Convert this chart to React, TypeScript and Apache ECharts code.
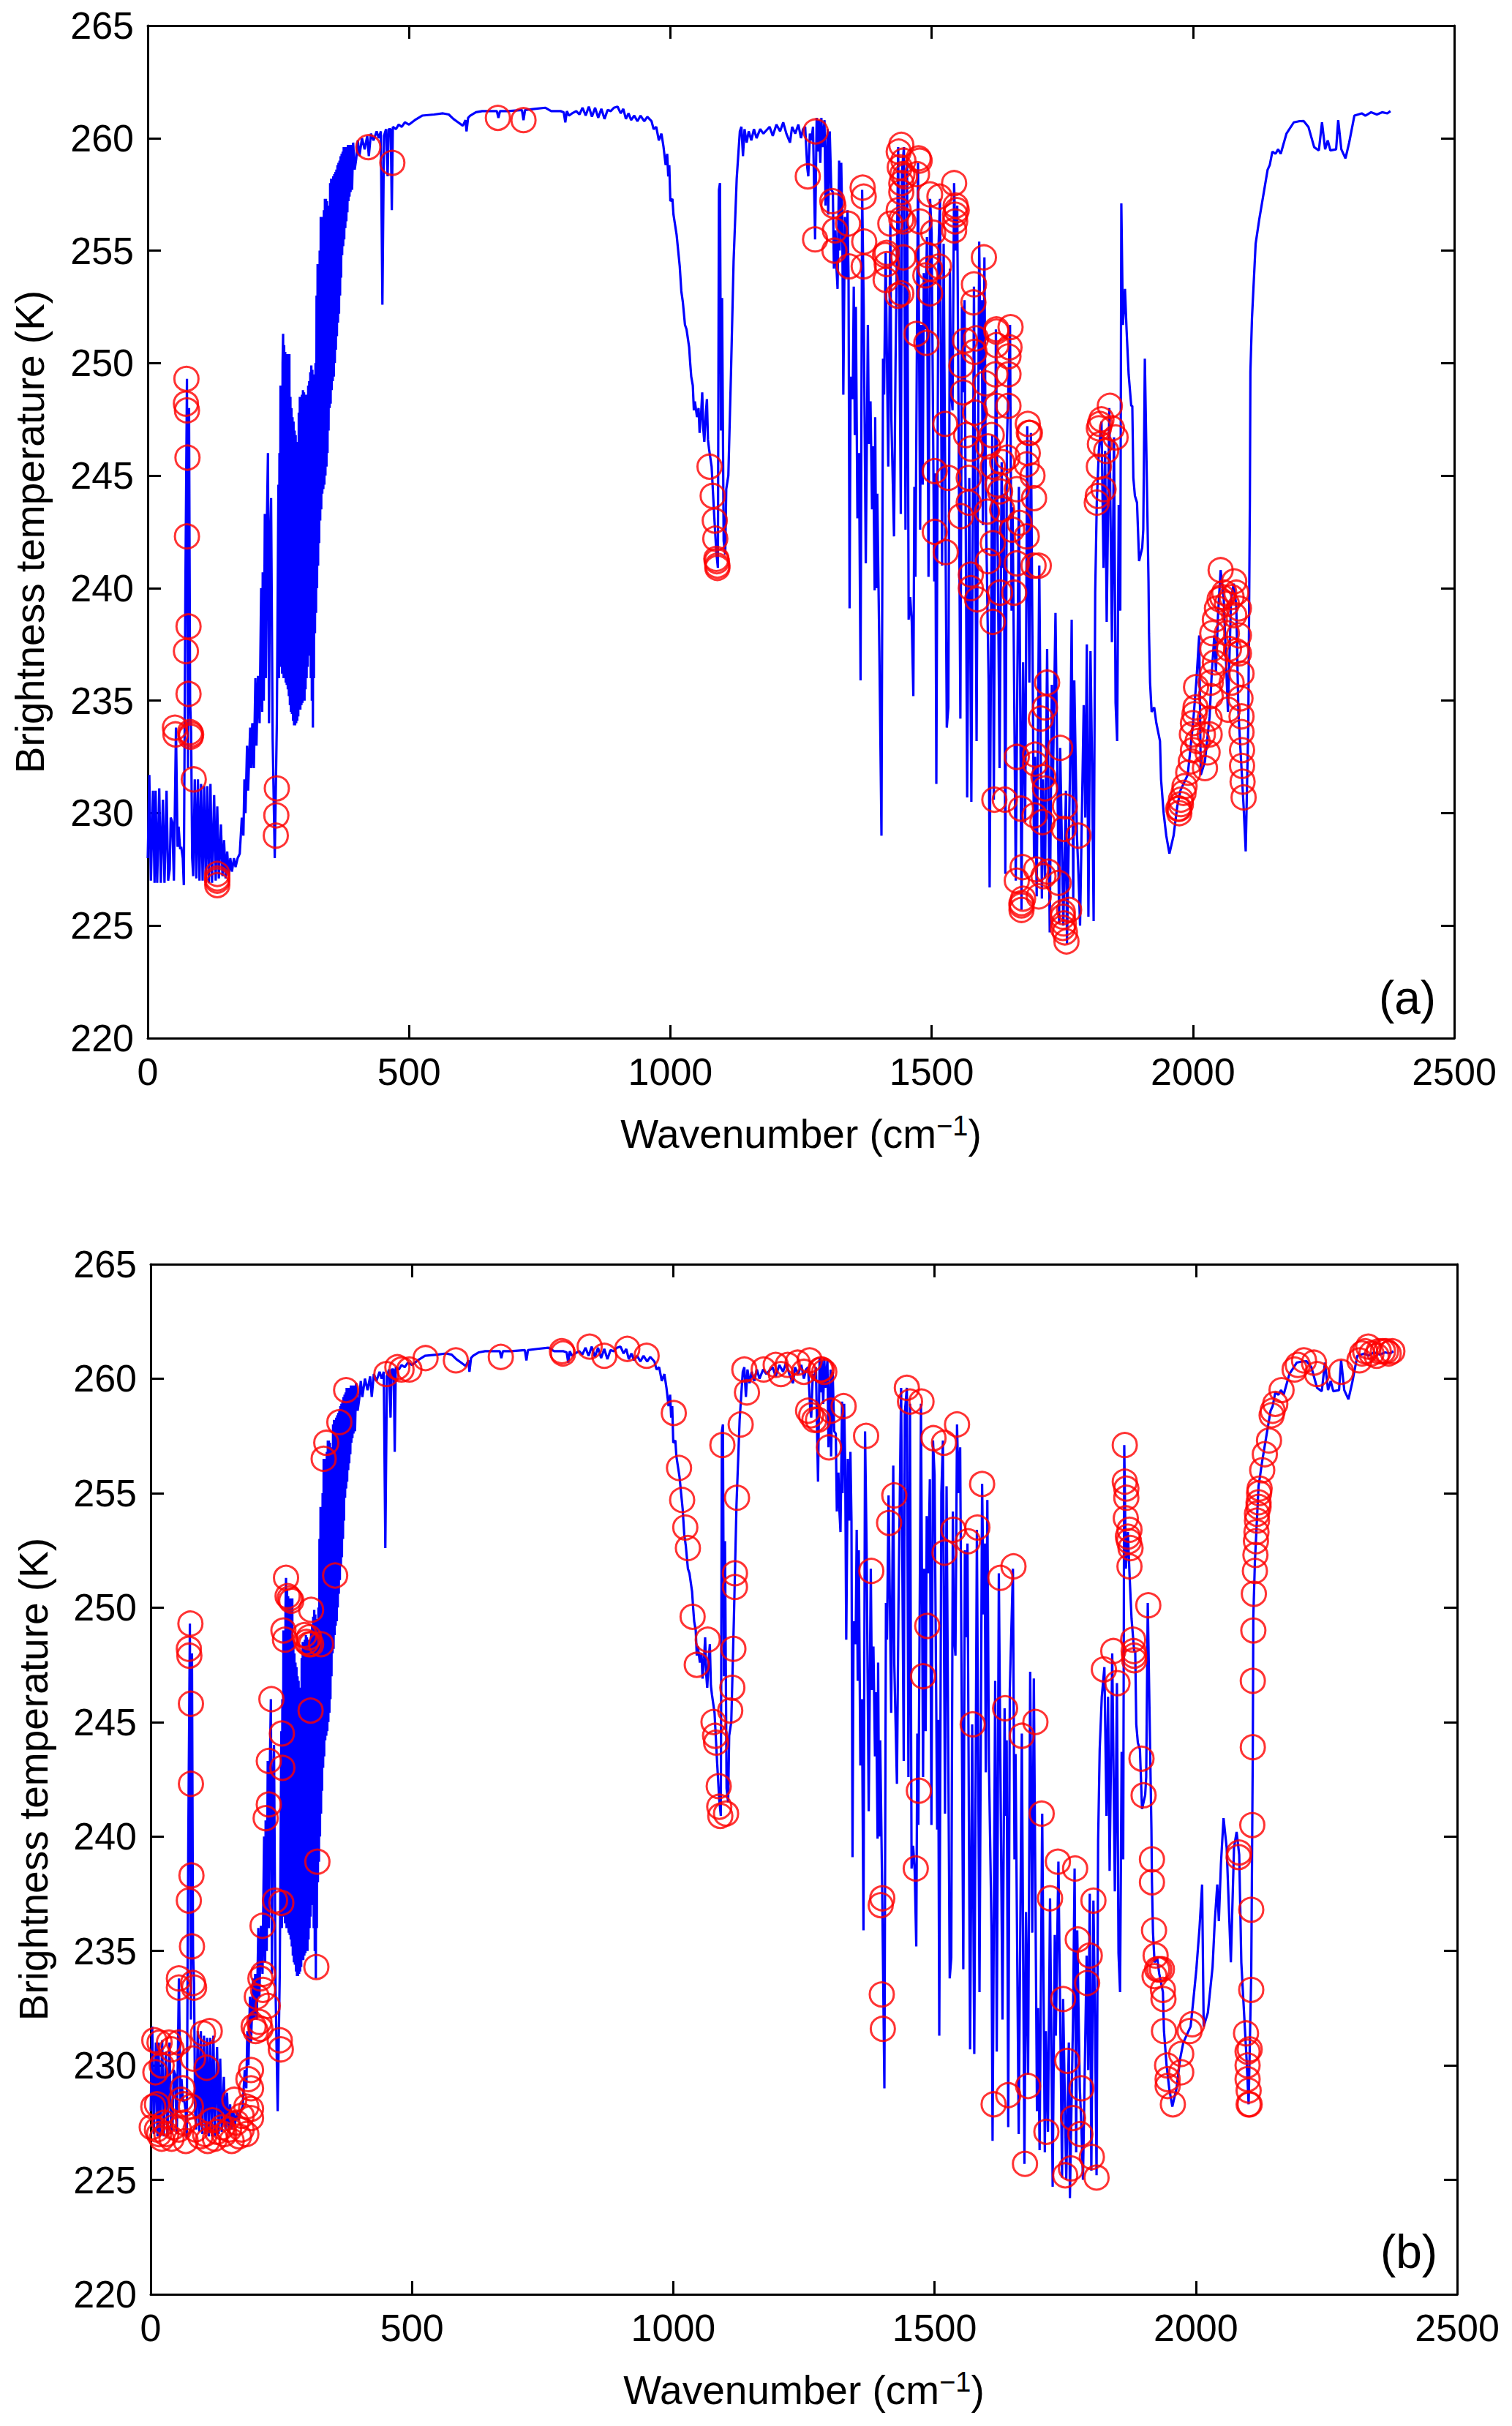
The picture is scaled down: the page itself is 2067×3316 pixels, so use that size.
import React, { useEffect, useRef } from "react";
import * as echarts from "echarts";

type P = [number, number];

const farInfrared: P[] = [[0,228],[3,231.7],[6,227],[10,231],[13,226.9],[15,231],[18,226.9],[22,231.1],[25,226.9],[29,230.6],[32,226.9],[36,231],[39,227],[42,227.5],[44,229.8],[47,229.6],[50,227],[54,233.8],[57,228.5],[59,229.4],[62,228.4],[64,228.5],[67,228],[69,226.8],[72,240],[75,249.3],[77,232],[79,248],[81,235],[83,233.6],[85,228],[87,227.2],[90,231.5],[93,227.1],[96,231.5],[99,227],[102,231.3],[105,227],[108,231.2],[111,226.9],[114,231.2],[117,226.9],[120,231.3],[123,226.9],[127,230.8],[130,227],[133,230.3],[136,227.1],[140,229.5],[143,227.2],[146,228.8],[149,227.1],[152,228.3],[155,227.2],[158,228],[161,227.4],[165,228],[168,227.6],[172,228],[176,228.2],[180,229.8],[183,229],[185,231.5],[187,230],[190,233],[192,231],[196,233.8],[198,232]];

const co2Band: P[] = [[200,234],[203,232],[206,236],[208,233],[211,236.1],[214,234],[217,240],[219,234.5],[220,240.7],[222,235],[224,243.3],[226,236],[228,243],[230,246],[232,234],[234,242],[236,244],[239,233.3],[243,228],[247,234],[250,244.6],[251,236],[252,246],[253,238],[254,249],[255,236.5],[256,248],[257,236.2],[258,250],[259,251.3],[260,236],[261,250.8],[262,236],[263,250.5],[264,235.8],[265,249.8],[266,235.7],[267,250.4],[268,235.5],[269,250.2],[270,235.2],[271,250.4],[272,234.8],[273,248.5],[274,234.5],[275,248],[276,234.4],[277,247.6],[278,234.1],[279,247.4],[280,233.9],[281,247],[282,233.9],[283,246.8],[284,234],[285,246.5],[286,234.1],[287,246.5],[288,234.3],[289,247.8],[290,234.6],[291,248.5],[292,234.6],[293,248.4],[294,234.8],[295,248.6],[296,234.9],[297,248.8],[298,235],[299,248.7],[300,235],[301,248.5],[302,235.5],[303,248.6],[304,236],[305,248.2],[306,236.5],[307,249],[308,237],[309,249.2],[310,237.6],[311,249.6],[312,236],[313,249.9],[314,235],[315,249.7],[316,233.8],[317,249],[318,236],[319,249.5],[320,238],[321,250],[322,238.9],[323,253],[324,240],[325,254.4],[326,241],[327,254],[328,242],[329,255],[330,243],[331,256.5],[332,243.5],[333,256],[334,244.2],[335,256.5],[336,244.4],[337,256.8],[338,244.6],[339,257.3],[340,245],[341,257.3],[342,245.4],[343,257.2],[344,246],[345,257],[346,247],[347,256.8],[348,248],[349,258],[350,248.2],[351,258.2],[352,248.8],[353,258],[354,249.2],[355,258.3],[356,249.4],[357,258.4],[358,250],[359,258.5],[360,250.6],[361,258.6],[362,251.2],[363,258.8],[364,251.8],[365,258.9],[366,252.2],[367,259],[368,253],[369,259.2],[370,253.8],[371,259.3],[372,254.8],[373,259.4],[374,255.2],[375,259.6],[376,255.5],[377,259.5],[378,256],[379,259.6],[380,256.3],[381,259.6],[382,256.7],[383,259.7],[384,257.2],[385,259.7],[386,257.4],[387,259.7],[388,257.6],[389,259.7],[391,257.7],[393,259.8],[396,258.6],[399,259.1],[402,259.9],[405,259.2],[410,260],[415,259.5],[420,260.1],[423,259.2],[427,260.2],[432,259.9],[438,260.3],[442,260],[446,260.3],[449,252.6],[452,260.1],[456,260.4],[459,258.3],[461,260.4],[465,260.4],[467,256.8],[469,260.5],[475,260.4],[480,260.6],[486,260.5],[492,260.7],[500,260.6],[511,260.8]];

const atmosphericWindow: P[] = [[525,261],[548,261.05],[565,261.1],[576,261.05],[585,260.85],[594,260.7],[603,260.55],[608,260.8],[610,260.3],[613,260.9],[617,261],[628,261.15],[640,261.2],[655,261.2],[668,261.2],[671,260.9],[674,261.2],[690,261.2],[716,261.25],[719,260.8],[722,261.25],[740,261.3],[761,261.35],[772,261.2],[790,261.2],[796,261.15],[799,260.7],[802,261.2],[806,261],[812,261.1],[820,261.2],[826,261.05],[832,261.35],[838,261],[844,261.4],[850,260.95],[856,261.35],[862,260.9],[868,261.3],[874,260.85],[880,261.25],[886,261.2],[892,261.35],[899,261.4],[905,261.1],[910,261.3],[915,260.85],[920,261.1],[925,260.8],[931,261],[937,260.75],[943,261],[950,260.75],[956,260.95],[964,260.75],[968,260.4],[973,260.5],[978,259.9],[983,260.2],[987,259.6],[991,258.8],[994,259.3],[996,258.3],[998,258.8],[1000,257.2],[1004,257.3],[1006,256.6],[1010,256],[1012,255.7],[1015,255],[1018,254.3],[1021,253.2],[1024,252.7],[1028,251.7],[1031,251.5],[1036,250.7],[1038,250],[1040,249.4],[1043,249],[1045,247.9],[1047,248.3],[1051,247.6],[1054,248],[1056,246.9],[1059,247.8],[1061,248.7],[1063,247.1],[1065,246.5],[1068,247.8],[1070,248.4],[1072,246.6],[1074,246.2],[1079,245.4],[1084,243.2],[1088,241.6],[1091,240.9],[1093,257.7],[1095,258],[1097,247],[1099,252.9],[1102,242.1],[1105,241.5],[1107,244.4],[1111,245],[1116,249.5],[1121,254.5],[1127,258.2],[1133,260.3],[1136,260.5],[1139,259.2],[1142,260.4],[1146,259.8],[1150,260.3],[1155,259.9],[1160,260.4],[1165,260],[1172,260.4],[1178,260.2],[1184,260.35],[1190,260.5],[1196,260.1],[1203,260.6],[1210,260.3],[1216,260.7],[1222,260.2],[1229,259.8],[1233,260.5],[1239,260.2],[1245,260.6],[1250,260],[1254,260.4],[1258,260.5],[1262,258.7],[1264,258.3],[1267,260.2],[1270,259.9],[1273,260.5],[1277,255.5]];

const waterBandLow: P[] = [[1280,260.9],[1282,259.4],[1284,260.8],[1287,258.9],[1289,260.9],[1291,259.6],[1295,260.8],[1297,257],[1301,260.4],[1302,256.6],[1305,260.3],[1308,257.7],[1311,257.6],[1313,254.2],[1316,255.9],[1318,254.2],[1320,253.3],[1323,259],[1324,255],[1327,258.9],[1329,256.3],[1331,248.6],[1334,256.5],[1337,253.8],[1339,256.8],[1341,253.8],[1343,239.1],[1345,249.4],[1349,248.4],[1351,253.4],[1353,246.8],[1355,252.5],[1358,243.1],[1361,246],[1364,235.9],[1367,257.7],[1370,252.5],[1374,241.1],[1378,251.7],[1380,246.4],[1383,248.3],[1386,243.5],[1388,246.3],[1391,239.9],[1392,247.6],[1394,240],[1396,244.2],[1400,237.2],[1404,229],[1407,250.2],[1409,248.6],[1412,254.9],[1417,245.4],[1421,256.2],[1423,247.5],[1428,242.3],[1431,250.1],[1436,259.6],[1441,243.3],[1443,258.5],[1447,259.6],[1450,242.6],[1453,258.9],[1456,238.6],[1459,239.6],[1462,238.5],[1465,235.2],[1467,244.5],[1469,240.5],[1474,258.9],[1478,242.6],[1480,251.7],[1483,244.6],[1485,254],[1488,251.5],[1491,255.6],[1494,240.5],[1497,257.3],[1500,255.8],[1505,240.3],[1507,245.1],[1509,231.3],[1513,255],[1516,257.3],[1520,241],[1523,255.3],[1529,233.8],[1532,234.7],[1535,254.2],[1537,248.8],[1540,247.9],[1543,258],[1546,255],[1549,257],[1555,234.2],[1558,252.5],[1561,248.7],[1563,252.8],[1568,230.7],[1572,244.9],[1576,230.5],[1581,253.4],[1586,233.2]];

const waterBandHigh: P[] = [[1591,255.4],[1594,249.7],[1596,252.8],[1598,242.8],[1601,254.7],[1604,243.3],[1609,235.9],[1611,226.7],[1616,246.8],[1619,230.6],[1623,251.5],[1630,232],[1634,245.6],[1636,240.9],[1638,244.2],[1641,227.3],[1644,246.4],[1650,251.7],[1653,239],[1655,243.6],[1661,227],[1667,244.5],[1672,225.7],[1675,236.7],[1679,229.6],[1683,247.2],[1687,235.8],[1690,246.9],[1696,228],[1698,232.5],[1701,226.3],[1706,241],[1711,226.2],[1713,231.5],[1717,227.1],[1721,237.3],[1726,224.7],[1730,235.7],[1732,231.3],[1737,238.9],[1744,225.1],[1746,232.9],[1752,225],[1757,231],[1759,224.2],[1765,232.1],[1768,238.6],[1771,226.2],[1773,235.9],[1778,229],[1781,227.3],[1784,225],[1791,234.8],[1794,229.8],[1797,237.5],[1800,225.4],[1804,237.2],[1807,232.1],[1810,225.2],[1813,239.8],[1816,243.8],[1820,246.1],[1825,247.4],[1829,240.9],[1832,246.1],[1835,238.5],[1840,248],[1845,237.6],[1849,246.7],[1852,234.9],[1855,233.2],[1858,243.7],[1861,239],[1863,257.1],[1866,251.7],[1870,253.3],[1873,251.5],[1877,249.5],[1882,248.1],[1884,248.1],[1886,244.9],[1889,244.1],[1893,243.8],[1897,241.2],[1903,241.8],[1905,242.6],[1908,250.2]];

const shortwaveBand: P[] = [[1915,240.3],[1916,238],[1918,235.8],[1921,234.5],[1926,234.7],[1930,234],[1937,233.2],[1939,231.5],[1944,230],[1949,229],[1955,228.2],[1963,229],[1970,230.3],[1976,231],[1990,231.7],[1995,232.8],[2001,234.2],[2007,236],[2012,237.9],[2015,231.7],[2023,232.3],[2032,234.3],[2036,236.2],[2041,237.9],[2044,236.3],[2048,238.8],[2053,240.8],[2059,239.5],[2067,234.5],[2073,239.5],[2078,240.2],[2083,239.2],[2087,234.5],[2097,230.3],[2101,228.3],[2106,234],[2109,243.9],[2110,249.6],[2113,252],[2120,255.3],[2127,256.4],[2143,258.6],[2147,258.8],[2152,259.4],[2158,259.3],[2163,259.5],[2168,259.3],[2179,260.2],[2193,260.7],[2203,260.75],[2212,260.76],[2221,260.5],[2232,259.6],[2241,259.45],[2247,260.7],[2253,259.5],[2258,259.9],[2263,259.45],[2274,259.5],[2278,260.8],[2284,259.5],[2292,259.1],[2299,259.8],[2309,261],[2323,261.1],[2330,261],[2341,261.15],[2352,261.05],[2362,261.15],[2372,261.1],[2378,261.2]];

const spectrum: P[] = [...farInfrared, ...co2Band, ...atmosphericWindow, ...waterBandLow, ...waterBandHigh, ...shortwaveBand];

const channelsA: P[] = [[422,259.6],[468,258.9],[670,260.9],[719,260.8],[74,249.3],[73,248.2],[75,247.9],[76,245.8],[75,242.3],[1075,245.4],[1081,244.1],[1085,243],[1086,242.2],[1088,241.3],[1089,241.2],[1090,241],[1090,240.9],[78,238.3],[73,237.2],[78,235.3],[52,233.8],[53,233.5],[81,233.6],[82,233.4],[83,233.5],[88,231.5],[247,231.1],[246,229.9],[245,229],[133,227.3],[133,227.1],[133,227],[133,226.8],[1278,260.3],[1263,258.3],[1310,257.2],[1312,257],[1277,255.5],[1315,255.9],[1340,256.2],[1314,255],[1342,254.3],[1368,257.8],[1370,257.4],[1371,255.4],[1370,254.3],[1442,259.7],[1437,259.4],[1439,258.7],[1446,259],[1444,258.4],[1449,258.3],[1442,258],[1442,257.6],[1437,256.8],[1442,256.4],[1446,256.3],[1421,256.2],[1477,259],[1475,259.1],[1472,258.4],[1497,257.5],[1515,257.4],[1477,256.3],[1543,258],[1546,257],[1548,256.8],[1545,256.6],[1545,256.3],[1543,255.9],[1503,255.8],[1414,254.9],[1411,254.8],[1446,254.7],[1414,254.4],[1412,253.7],[1492,254.8],[1514,254.3],[1497,254.2],[1488,253.9],[1497,253.1],[1442,253.1],[1435,253],[1600,254.7],[1581,253.5],[1580,252.7],[1471,251.3],[1490,250.9],[1564,251],[1585,251.1],[1582,250.5],[1557,249.9],[1624,251.5],[1624,251.4],[1651,251.6],[1649,250.7],[1647,250.3],[1624,250.8],[1647,249.5],[1622,249.5],[1603,249.1],[1560,248.7],[1624,248.1],[1647,248.1],[1583,247.8],[1526,247.3],[1566,246.8],[1615,246.8],[1684,247.3],[1686,246.9],[1688,246.9],[1684,246],[1575,246.2],[1608,246.3],[1645,245.8],[1617,245.4],[1635,245.6],[1682,245.5],[1693,245],[1506,245.2],[1532,244.9],[1571,244.9],[1626,244.6],[1631,244.3],[1663,244.4],[1696,244],[1571,243.8],[1606,243.4],[1556,243.2],[1635,243.5],[1506,242.5],[1668,242.9],[1654,242.6],[1682,242.3],[1617,242],[1527,241.6],[1608,241.2],[1663,241.1],[1695,241],[1705,241],[1575,240.6],[1587,239.5],[1631,239.8],[1658,239.8],[1617,238.5],[1575,240],[1841,248.1],[1825,247.5],[1822,247.3],[1820,247.1],[1845,247.1],[1852,246.7],[1822,246.4],[1834,246.1],[1820,245.4],[1829,244.4],[1818,244.1],[1816,243.8],[2053,240.8],[2079,240.3],[1974,230],[1974,230.2],[1977,230.4],[1982,230.9],[1984,231.2],[1991,231.8],[1996,232.3],[2000,232.8],[1998,233.5],[2000,234],[2003,234.4],[2005,234.7],[2006,235.6],[2009,233.2],[2019,233.5],[2023,232],[2028,232.7],[2032,233.5],[2032,234.2],[2034,235.2],[2034,235.8],[2037,236.2],[2042,236.7],[2037,237.3],[2037,238],[2042,238.6],[2046,239.1],[2051,239.5],[2056,239.6],[2060,239.8],[2065,239.3],[2074,239.6],[2083,239.8],[2088,239.1],[2079,238.8],[2065,238],[2088,237.9],[2069,237.3],[2088,237.1],[2083,237.2],[2074,235.8],[2093,236.2],[2091,235.1],[2067,234.6],[2093,234.3],[2093,233.6],[2094,232.8],[2094,232.1],[2095,231.4],[2097,230.7],[1972,230.2],[1977,230.6],[1721,235.8],[1717,234.7],[1709,234.2],[1746,232.9],[1663,232.5],[1698,232.6],[1698,232.2],[1714,231.6],[1717,231.1],[1620,230.6],[1640,230.6],[1671,230.2],[1697,229.9],[1712,229.6],[1755,230.3],[1753,229.3],[1781,229],[1674,227.6],[1700,227.5],[1723,227.4],[1714,227.2],[1663,227],[1743,226.9],[1705,226.3],[1675,226.2],[1672,226],[1672,225.9],[1672,225.7],[1763,225.7],[1751,225.6],[1751,225.4],[1753,225.1],[1751,224.9],[1755,224.7],[1758,224.3]];

const channelsB: P[] = [[374,259.5],[361,258.1],[336,257.2],[331,256.5],[451,260.2],[472,260.5],[480,260.4],[495,260.4],[526,260.9],[584,260.8],[670,260.95],[787,261.2],[789,261.1],[840,261.4],[868,261],[912,261.3],[949,261],[1001,258.5],[1011,256.1],[1017,254.7],[1023,253.5],[1028,252.6],[1037,249.6],[1066,248.6],[1045,247.5],[1077,245],[1080,244.4],[1082,244.1],[1087,242.2],[1088,241.3],[1090,240.9],[1101,241],[1094,257.1],[1122,254.8],[1118,251.5],[1118,250.9],[1115,248.2],[1113,246.5],[1109,245.5],[1129,258],[1141,259.4],[1136,260.4],[353,251.4],[259,251.3],[262,250.5],[266,250.4],[269,250.3],[307,249.9],[254,249],[257,248.6],[294,248.8],[303,248.7],[298,248.5],[307,248.4],[326,248.4],[303,248.4],[306,245.5],[76,249.3],[73,248.2],[74,247.9],[77,245.8],[77,242.3],[231,246],[251,244.5],[226,243.3],[252,243],[226,241.4],[220,240.8],[1173,260.4],[1196,260.6],[1206,260.2],[1219,260.6],[1238,260.7],[1250,260.3],[1261,260.8],[1284,260.4],[1289,260.3],[1282,260.4],[1258,258.6],[1264,258.4],[1270,258.2],[1277,258.2],[1302,258.6],[1326,258.8],[1298,257],[1369,257.5],[1379,251.6],[1447,259.6],[1453,259],[1475,259],[1498,257.4],[1518,257.2],[1543,258],[1423,254.9],[1413,253.7],[1591,255.4],[1536,253.4],[1582,253.5],[1564,252.9],[1519,252.4],[1626,251.3],[1651,251.8],[1486,249.2],[1478,247],[1573,244.9],[1635,245.6],[1693,245],[1667,244.4],[1470,242],[1705,241],[1864,257.1],[1864,255.5],[1867,255.2],[1867,254.8],[1866,253.9],[1873,253.4],[1870,253.1],[1872,252.9],[1875,252.6],[1873,251.8],[1909,250.1],[1880,248.6],[1881,248.1],[1882,247.9],[1882,247.7],[1842,248.1],[1824,247.3],[1850,246.7],[1896,243.4],[1900,241.8],[2108,240.5],[2109,243.9],[2109,246.8],[2110,249],[2111,250.6],[2113,251.6],[2114,252.3],[2115,252.9],[2116,253.3],[2117,253.8],[2117,254.1],[2120,254.4],[2120,254.6],[2121,255],[2122,255.2],[2127,256],[2132,256.7],[2140,257.3],[2145,258.4],[2147,258.6],[2152,258.9],[2164,259.5],[2189,260.4],[2195,260.6],[2207,260.8],[2226,260.7],[2232,260.2],[2278,260.3],[2313,260.8],[2318,261.1],[2324,261.2],[2330,261.4],[2336,261.1],[2346,261],[2350,261.2],[2358,261.2],[2364,261.2],[2369,261.1],[2376,261.2],[1736,238.9],[1769,238.6],[1721,237.3],[1804,237.2],[1774,235.5],[1797,234.8],[1792,233.6],[1746,232.9],[1754,230.2],[1781,229],[1464,238.6],[1400,237.3],[1397,237],[1399,233.1],[1401,231.6],[1679,229.1],[1641,228.7],[1613,228.3],[1714,227.1],[1765,227.7],[1779,227],[1673,225.7],[1801,226],[1761,225.5],[1750,225.2],[1810,225.1],[1916,239],[1916,238],[1920,235.9],[1923,234.8],[1921,233.9],[1926,234.2],[1930,234.2],[1935,234.2],[1937,233.3],[1938,232.9],[1939,231.5],[1945,230],[1946,229.4],[1946,229.1],[1956,228.3],[1972,230.5],[1972,229.7],[1988,231.5],[1993,231.8],[2082,239.1],[2083,239.3],[2106,236.8],[2106,233.3],[2096,231.4],[2099,230.6],[2103,230.7],[2099,230],[2099,229.4],[2101,228.9],[2103,228.3],[2101,228.3],[319,238.9],[317,234.3],[238,237.2],[250,237.1],[214,236.1],[78,238.3],[73,237.2],[79,235.2],[54,233.8],[54,233.4],[81,233.6],[83,233.4],[215,234],[210,233.8],[215,233.3],[203,233],[224,232.6],[197,231.7],[201,231.5],[210,231.6],[208,231.9],[247,231.1],[249,230.7],[192,229.8],[187,229.4],[192,229],[100,231.4],[113,231.5],[81,230.3],[107,229.9],[7,231.1],[17,231],[35,231],[54,231],[40,230.7],[21,230],[9,229.7],[61,229],[5,228.2],[12,228.3],[58,228.5],[63,228.3],[77,228.2],[2,227.3],[16,227],[21,226.8],[40,226.8],[67,226.7],[54,227.2],[30,227],[86,227.2],[95,226.9],[109,226.7],[123,226.8],[118,227.6],[141,227],[160,228.5],[155,226.7],[169,226.9],[183,227],[192,227.7],[192,228.1],[174,227.8],[183,228.2],[164,227.5],[150,227.2],[137,227.3],[127,227.1],[104,227],[26,227.5],[44,227.3],[12,227.2],[63,227.5],[174,227.2]];

const FONT = "Liberation Sans";
const LABEL = 52;
const NAME = 55;

const panels = [
  { left: 202, top: 35, width: 1786, height: 1384, yNameX: 41, tag: "(a)", tagX: 1924, tagY: 1364, channels: channelsA },
  { left: 206, top: 1728, width: 1786, height: 1408, yNameX: 46, tag: "(b)", tagX: 1926, tagY: 3078, channels: channelsB },
];

const axisLine = { show: true, onZero: false, lineStyle: { color: "#000", width: 3 } };
const axisTick = { show: true, inside: true, length: 18, lineStyle: { color: "#000", width: 3 } };

export default function App() {
  const ref = useRef<HTMLDivElement>(null);
  useEffect(() => {
    if (!ref.current) return;
    const chart = echarts.init(ref.current, undefined, { renderer: "svg", width: 2067, height: 3316 });
    const grid: any[] = [];
    const xAxis: any[] = [];
    const yAxis: any[] = [];
    const series: any[] = [];
    const graphic: any[] = [];
    panels.forEach((p, i) => {
      grid.push({ left: p.left, top: p.top, width: p.width, height: p.height, containLabel: false });
      const xBase = { type: "value", gridIndex: i, min: 0, max: 2500, interval: 500, splitLine: { show: false }, axisLine, axisTick };
      const yBase = { type: "value", gridIndex: i, min: 220, max: 265, interval: 5, splitLine: { show: false }, axisLine, axisTick };
      xAxis.push({
        ...xBase,
        position: "bottom",
        axisLabel: { fontFamily: FONT, fontSize: LABEL, color: "#000", margin: 20, formatter: (v: number) => String(v) },
        name: "Wavenumber (cm{s|\u22121}{n|)}",
        nameLocation: "middle",
        nameGap: 101,
        nameTextStyle: {
          fontFamily: FONT, fontSize: NAME, color: "#000",
          rich: {
            s: { fontFamily: FONT, fontSize: 38, color: "#000", verticalAlign: "top", padding: [0, 0, 22, 0] },
            n: { fontFamily: FONT, fontSize: NAME, color: "#000" },
          },
        },
      });
      xAxis.push({ ...xBase, position: "top", axisLabel: { show: false } });
      yAxis.push({
        ...yBase,
        position: "left",
        axisLabel: { fontFamily: FONT, fontSize: LABEL, color: "#000", margin: 19, formatter: (v: number) => String(v) },
        name: "Brightness temperature (K)",
        nameLocation: "middle",
        nameGap: p.left - p.yNameX,
        nameRotate: 90,
        nameTextStyle: { fontFamily: FONT, fontSize: NAME, color: "#000", verticalAlign: "middle" },
      });
      yAxis.push({ ...yBase, position: "right", axisLabel: { show: false } });
      const xi = i * 2;
      series.push({
        type: "line", xAxisIndex: xi, yAxisIndex: xi, data: spectrum, showSymbol: false, symbol: "none",
        lineStyle: { color: "#0000ff", width: 3.2 }, z: 2, silent: true,
      });
      series.push({
        type: "scatter", xAxisIndex: xi, yAxisIndex: xi, data: p.channels, symbol: "circle", symbolSize: 33,
        itemStyle: { color: "transparent", borderColor: "#ff0000", borderWidth: 3 }, z: 3, silent: true,
      });
      graphic.push({
        type: "text", x: p.tagX, y: p.tagY, z: 10,
        style: { text: p.tag, fontFamily: FONT, fontSize: 64, fill: "#000", textAlign: "center", textVerticalAlign: "middle" },
      });
    });
    chart.setOption({
      animation: false,
      backgroundColor: "#fff",
      grid, xAxis, yAxis, series, graphic,
    });
    return () => chart.dispose();
  }, []);
  return <div ref={ref} style={{ position: "absolute", left: 0, top: 0, width: 2067, height: 3316 }} />;
}
